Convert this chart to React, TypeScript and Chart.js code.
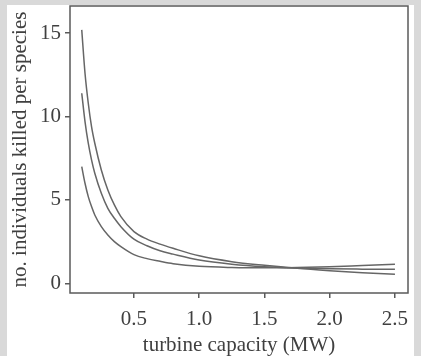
import React, { useEffect, useRef } from "react";
import { Chart, registerables } from "chart.js";

Chart.register(...registerables);

const capacity = [0.1, 0.125, 0.15, 0.175, 0.2, 0.25, 0.3, 0.35, 0.4, 0.5, 0.6, 0.7, 0.8, 1.0, 1.25, 1.5, 1.75, 2.0, 2.25, 2.5];
const curveA = [15.2, 12.6, 10.8, 9.4, 8.4, 6.8, 5.6, 4.7, 4.0, 3.1, 2.65, 2.35, 2.1, 1.65, 1.3, 1.08, 0.9, 0.76, 0.64, 0.54];
const curveB = [11.4, 9.7, 8.4, 7.4, 6.6, 5.4, 4.5, 3.9, 3.4, 2.65, 2.25, 1.95, 1.75, 1.4, 1.15, 1.0, 0.92, 0.87, 0.85, 0.84];
const curveC = [7.0, 6.0, 5.2, 4.6, 4.1, 3.4, 2.9, 2.5, 2.2, 1.72, 1.48, 1.32, 1.18, 1.02, 0.95, 0.93, 0.95, 1.0, 1.07, 1.14];
const xTicks = [0.5, 1.0, 1.5, 2.0, 2.5];
const yTicks = [0, 5, 10, 15];
const xTitle = "turbine capacity (MW)";
const yTitle = "no. individuals killed per species";

const SERIF = "'Liberation Serif', 'DejaVu Serif', serif";
const INK = "#5a5a5a";
const TEXT = "#404040";

const boxPlugin = {
  id: "box",
  afterDraw(chart: any) {
    const { ctx, chartArea } = chart;
    ctx.save();
    ctx.strokeStyle = INK;
    ctx.lineWidth = 1.5;
    ctx.strokeRect(chartArea.left, chartArea.top, chartArea.right - chartArea.left, chartArea.bottom - chartArea.top);
    ctx.restore();
  },
};

export default function App() {
  const ref = useRef<HTMLCanvasElement | null>(null);
  useEffect(() => {
    if (!ref.current) return;
    const mk = (ys: number[]) => capacity.map((x, i) => ({ x, y: ys[i] }));
    const ds = (ys: number[]) => ({
      data: mk(ys),
      showLine: true,
      borderColor: "#666666",
      borderWidth: 1.5,
      pointRadius: 0,
      cubicInterpolationMode: "monotone" as const,
      fill: false,
    });
    const chart = new Chart(ref.current, {
      type: "scatter",
      data: { datasets: [ds(curveA), ds(curveB), ds(curveC)] },
      plugins: [boxPlugin],
      options: {
        animation: false,
        responsive: false,
        devicePixelRatio: 1,
        layout: { padding: { left: 0, top: 6, right: 13, bottom: 0 } },
        plugins: { legend: { display: false }, tooltip: { enabled: false } },
        scales: {
          x: {
            type: "linear",
            min: 0.01,
            max: 2.6,
            afterBuildTicks: (s: any) => {
              s.ticks = xTicks.map((v) => ({ value: v }));
            },
            afterFit: (s: any) => {
              s.height = 356 - 293;
              s.paddingLeft = 0;
              s.paddingRight = 0;
            },
            grid: { drawOnChartArea: false, drawTicks: true, tickLength: 5, color: INK, lineWidth: 1.5 },
            border: { display: false },
            ticks: {
              font: { family: SERIF, size: 21 },
              color: TEXT,
              padding: 9,
              maxRotation: 0,
              callback: (v: any) => Number(v).toFixed(1),
            },
            title: {
              display: true,
              text: xTitle,
              font: { family: SERIF, size: 21, lineHeight: 1 },
              color: TEXT,
              padding: { top: 0, bottom: 0 },
            },
          },
          y: {
            type: "linear",
            min: -0.58,
            max: 16.63,
            afterBuildTicks: (s: any) => {
              s.ticks = yTicks.map((v) => ({ value: v }));
            },
            afterFit: (s: any) => {
              s.width = 70;
              s.paddingTop = 0;
              s.paddingBottom = 0;
            },
            grid: { drawOnChartArea: false, drawTicks: true, tickLength: 5, color: INK, lineWidth: 1.5 },
            border: { display: false },
            ticks: {
              font: { family: SERIF, size: 21 },
              color: TEXT,
              padding: 4,
              callback: (v: any) => String(v),
            },
            title: {
              display: true,
              text: yTitle,
              font: { family: SERIF, size: 21, lineHeight: 1.2 },
              color: TEXT,
              padding: { top: 8, bottom: 0 },
            },
          },
        },
      },
    });
    return () => chart.destroy();
  }, []);

  return (
    <div style={{ position: "fixed", left: 0, top: 0, width: 421, height: 356, background: "#d9d9d9", overflow: "hidden" }}>
      <div style={{ position: "absolute", left: 7, top: 5, width: 407, height: 351, background: "#ffffff" }} />
      <canvas ref={ref} width={421} height={356} style={{ position: "absolute", left: 0, top: 0, width: 421, height: 356 }} />
    </div>
  );
}
